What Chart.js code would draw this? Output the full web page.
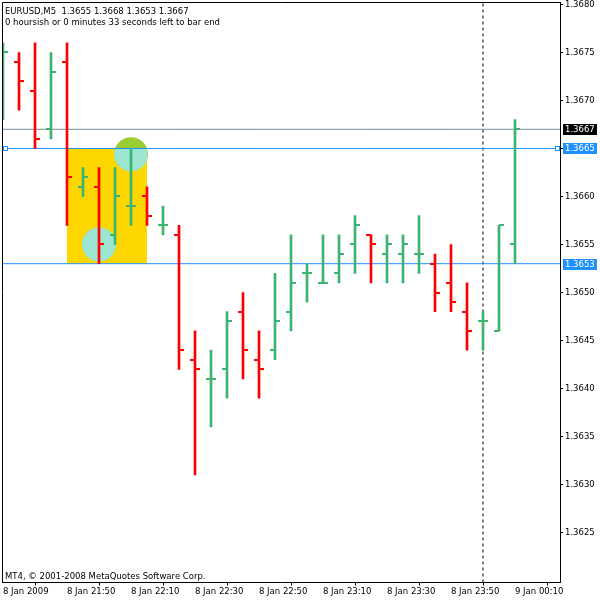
<!DOCTYPE html>
<html><head><meta charset="utf-8">
<script src="https://cdn.jsdelivr.net/npm/chart.js@4"></script>
<style>html,body{margin:0;padding:0;background:#fff}</style>
</head><body>
<canvas id="c" width="600" height="600"></canvas>
<script>
// ---- data ----
const symbolName = "EURUSD,M5";
const timeLeftText = "0 hoursish or 0 minutes 33 seconds left to bar end";
const copyrightText = "MT4, \u00A9 2001-2008 MetaQuotes Software Corp.";
const barTimes = ["21:30","21:35","21:40","21:45","21:50","21:55","22:00","22:05","22:10","22:15","22:20","22:25","22:30","22:35","22:40","22:45","22:50","22:55","23:00","23:05","23:10","23:15","23:20","23:25","23:30","23:35","23:40","23:45","23:50","23:55","00:00","00:05","00:10"];
const openP  = [1.3670,1.3674,1.3671,1.3667,1.3674,1.3661,1.3661,1.3656,1.3659,1.3660,1.3657,1.3656,1.3643,1.3641,1.3642,1.3648,1.3643,1.3644,1.3648,1.3652,1.3651,1.3652,1.3655,1.3656,1.3654,1.3654,1.3654,1.3653,1.3651,1.3648,1.3647,1.3646,1.3655];
const highP  = [1.3676,1.3675,1.3676,1.3675,1.3676,1.3663,1.3663,1.3663,1.3665,1.3661,1.3659,1.3657,1.3646,1.3644,1.3648,1.3650,1.3646,1.3652,1.3656,1.3653,1.3656,1.3656,1.3658,1.3656,1.3656,1.3656,1.3658,1.3654,1.3655,1.3651,1.3648,1.3657,1.3668];
const lowP   = [1.3668,1.3669,1.3665,1.3666,1.3657,1.3660,1.3653,1.3655,1.3657,1.3657,1.3656,1.3642,1.3631,1.3636,1.3639,1.3641,1.3639,1.3643,1.3646,1.3649,1.3651,1.3651,1.3652,1.3651,1.3651,1.3651,1.3652,1.3648,1.3648,1.3644,1.3644,1.3646,1.3653];
const closeP = [1.3675,1.3672,1.3666,1.3673,1.3662,1.3662,1.3655,1.3660,1.3659,1.3658,1.3657,1.3644,1.3642,1.3641,1.3647,1.3644,1.3642,1.3647,1.3651,1.3652,1.3651,1.3654,1.3657,1.3655,1.3655,1.3655,1.3654,1.3650,1.3649,1.3646,1.3647,1.3657,1.3667];
const xTickTimes  = ["21:30","21:50","22:10","22:30","22:50","23:10","23:30","23:50","00:10"];
const xTickLabels = ["8 Jan 2009","8 Jan 21:50","8 Jan 22:10","8 Jan 22:30","8 Jan 22:50","8 Jan 23:10","8 Jan 23:30","8 Jan 23:50","9 Jan 00:10"];
const yTicks = [1.3625,1.3630,1.3635,1.3640,1.3645,1.3650,1.3655,1.3660,1.3665,1.3670,1.3675,1.3680];
const bidLevel = 1.3667;
const hLineLevels = [1.3665, 1.3653];
const separatorTime = "00:00";
const rectTimes = ["21:50","22:15"];
const rectPrices = [1.3653, 1.3665];
const ellipseTimes = ["22:10","22:00"];
const ellipsePrices = [1.36644, 1.3655];

// ---- styles / layout ----
const UP = '#3CB371', DOWN = '#FF0000', BLUE = '#1E90FF', BID = '#778899';
const FONT = {family:'"DejaVu Sans", sans-serif', size:8.5};
const FONTSTR = '8.5px "DejaVu Sans", sans-serif';
const X_MIN = -0.0625, X_MAX = 34.8125;
const Y_MIN = 1.36197917, Y_MAX = 1.36802083;

const idx = t => barTimes.indexOf(t);
const isUp = i => closeP[i] >= openP[i];
const barColors = barTimes.map((t,i) => isUp(i) ? UP : DOWN);

function tickImg(color, side){
  const c = document.createElement('canvas'); c.width = 12; c.height = 2;
  const g = c.getContext('2d'); g.fillStyle = color;
  if (side === 'open') g.fillRect(1,0,5,2); else g.fillRect(6,0,5,2);
  return c;
}
const imgs = {
  openUp: tickImg(UP,'open'), openDown: tickImg(DOWN,'open'),
  closeUp: tickImg(UP,'close'), closeDown: tickImg(DOWN,'close')
};

const datasets = [
  { type:'scatter', label:'open', order:1, clip:0,
    data: barTimes.map((t,i)=>({x:i, y:openP[i]})),
    pointStyle: barTimes.map((t,i)=> isUp(i)?imgs.openUp:imgs.openDown), pointRadius:3 },
  { type:'scatter', label:'close', order:1, clip:0,
    data: barTimes.map((t,i)=>({x:i, y:closeP[i]})),
    pointStyle: barTimes.map((t,i)=> isUp(i)?imgs.closeUp:imgs.closeDown), pointRadius:3 },
  { type:'bar', label:'range', order:2,
    data: barTimes.map((t,i)=>({x:i, y:[lowP[i], highP[i]]})),
    backgroundColor: barColors, borderWidth:0, barThickness:2, grouped:false },
  { type:'line', label:'bid', order:5, data:[{x:X_MIN,y:bidLevel},{x:X_MAX,y:bidLevel}],
    borderColor:BID, borderWidth:1, pointRadius:0 },
  ...hLineLevels.map(v => ({ type:'line', label:'h'+v, order:6, data:[{x:X_MIN,y:v},{x:X_MAX,y:v}],
    borderColor:BLUE, borderWidth:1, pointRadius:0 })),
  { type:'line', label:'sep', order:7, data:[{x:idx(separatorTime),y:Y_MIN},{x:idx(separatorTime),y:Y_MAX}],
    borderColor:'#000', borderWidth:1, borderDash:[3,3], pointRadius:0 }
];

const mt4Plugin = {
  id:'mt4',
  beforeDatasetsDraw(chart){
    const {ctx, chartArea:a, scales:{x,y}} = chart;
    ctx.save();
    ctx.beginPath(); ctx.rect(a.left, a.top, a.right-a.left, a.bottom-a.top); ctx.clip();
    const rx1 = x.getPixelForValue(idx(rectTimes[0])), rx2 = x.getPixelForValue(idx(rectTimes[1]));
    const ry1 = y.getPixelForValue(rectPrices[1]), ry2 = y.getPixelForValue(rectPrices[0]);
    ctx.fillStyle = '#FFD700';
    ctx.fillRect(rx1, ry1, rx2-rx1, ry2-ry1);
    ellipseTimes.forEach((t,k)=>{
      const cx = x.getPixelForValue(idx(t)), cy = y.getPixelForValue(ellipsePrices[k]);
      const r = 17;
      ctx.fillStyle = '#9ACD32';
      ctx.beginPath(); ctx.arc(cx, cy, r, 0, Math.PI*2); ctx.fill();
      ctx.save();
      ctx.beginPath(); ctx.rect(rx1, ry1, rx2-rx1, ry2-ry1); ctx.clip();
      ctx.fillStyle = '#9DE6D2';
      ctx.beginPath(); ctx.arc(cx, cy, r, 0, Math.PI*2); ctx.fill();
      ctx.restore();
    });
    ctx.restore();
  },
  afterDatasetsDraw(chart){
    const {ctx, chartArea:a, scales:{y}} = chart;
    ctx.save();
    ctx.strokeStyle = '#000'; ctx.lineWidth = 1;
    ctx.beginPath();
    ctx.moveTo(Math.floor(a.left)+0.5, a.bottom); ctx.lineTo(Math.floor(a.left)+0.5, Math.floor(a.top)+0.5);
    ctx.lineTo(a.right, Math.floor(a.top)+0.5);
    ctx.stroke();
    const py = Math.floor(y.getPixelForValue(hLineLevels[0]));
    ctx.fillStyle = '#fff'; ctx.strokeStyle = BLUE;
    [Math.floor(a.left)+1, Math.floor(a.right)-5].forEach(px=>{
      ctx.fillRect(px+0.5, py-1.5, 4, 4);
      ctx.strokeRect(px+0.5, py-1.5, 4, 4);
    });
    ctx.fillStyle = '#000'; ctx.font = FONTSTR; ctx.textBaseline = 'alphabetic'; ctx.textAlign = 'left';
    const L = openP.length-1;
    ctx.fillText(symbolName + '  ' + [openP[L],highP[L],lowP[L],closeP[L]].map(v=>v.toFixed(4)).join(' '), 5, 14);
    ctx.fillText(timeLeftText, 5, 25);
    ctx.fillText(copyrightText, 5, 579);
    ctx.restore();
  },
  afterDraw(chart){
    const {ctx, chartArea:a, scales:{y}} = chart;
    const boxes = [[bidLevel,'#000'],[hLineLevels[0],BLUE],[hLineLevels[1],BLUE]];
    ctx.save();
    ctx.font = FONTSTR; ctx.textBaseline = 'middle'; ctx.textAlign = 'left';
    boxes.forEach(([v,col])=>{
      const py = Math.round(y.getPixelForValue(v));
      ctx.fillStyle = col;
      ctx.fillRect(Math.floor(a.right)+3, py-5, 34, 11);
      ctx.fillStyle = '#fff';
      ctx.fillText(v.toFixed(4), Math.floor(a.right)+5, py+0.5);
    });
    ctx.restore();
  }
};

new Chart(document.getElementById('c'), {
  type:'bar',
  data:{ datasets },
  options:{
    responsive:false, animation:false, devicePixelRatio:1,
    layout:{ autoPadding:false, padding:{left:2, top:2.5, right:0, bottom:0} },
    plugins:{ legend:{display:false}, tooltip:{enabled:false} },
    scales:{
      x:{ type:'linear', position:'bottom', min:X_MIN, max:X_MAX, offset:false,
        afterBuildTicks: s => { s.ticks = xTickTimes.map(t=>({value: idx(t)})); },
        afterFit: s => { s.height = 17.5; s.paddingLeft = 0; s.paddingRight = 0; },
        grid:{ drawOnChartArea:false, drawTicks:true, tickLength:3, color:'#000', lineWidth:1 },
        border:{ display:true, color:'#000', width:1 },
        ticks:{ align:'start', maxRotation:0, minRotation:0, autoSkip:false, padding:1, color:'#000', font:FONT,
          callback:(v,i)=> xTickLabels[i] } },
      y:{ type:'linear', position:'right', min:Y_MIN, max:Y_MAX,
        afterBuildTicks: s => { s.ticks = yTicks.map(v=>({value:v})); },
        afterFit: s => { s.width = 40; s.paddingTop = 0; s.paddingBottom = 0; },
        grid:{ drawOnChartArea:false, drawTicks:true, tickLength:3, color:'#000', lineWidth:1 },
        border:{ display:true, color:'#000', width:1 },
        ticks:{ padding:2, color:'#000', font:FONT, autoSkip:false, callback: v => Number(v).toFixed(4) } }
    }
  },
  plugins:[mt4Plugin]
});
</script>
</body></html>
